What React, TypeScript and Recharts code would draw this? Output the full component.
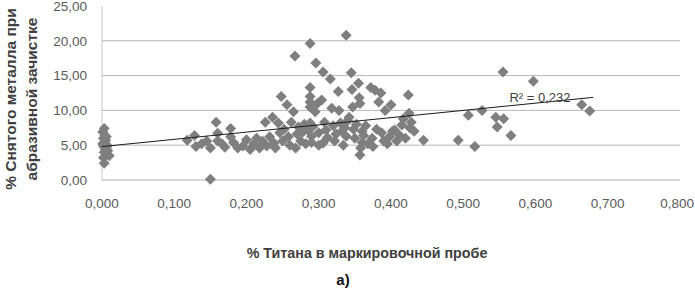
import React from "react";
import { ScatterChart, Scatter, XAxis, YAxis, ReferenceLine } from "recharts";

// % Ti in marking sample (x) and % removed metal (y)
const titaniumPct = [
  0.003, 0.001, 0.004, 0.002, 0.005, 0.003, 0.006, 0.002, 0.004, 0.005, 0.003, 0.006, 0.002, 0.003, 0.010, 0.008, 0.004, 0.006, 0.001, 0.007,
  0.118, 0.128, 0.130, 0.138, 0.145, 0.150, 0.150, 0.158, 0.160, 0.160, 0.166, 0.170, 0.178, 0.178, 0.182, 0.188, 0.195, 0.200, 0.205, 0.210, 0.214, 0.218, 0.222, 0.226, 0.228,
  0.232, 0.236, 0.238, 0.240, 0.244, 0.246, 0.248, 0.250, 0.252, 0.256, 0.258, 0.260, 0.262, 0.265, 0.267, 0.268, 0.270, 0.272, 0.275, 0.278, 0.280, 0.282, 0.285, 0.288, 0.288, 0.288, 0.288, 0.288, 0.288, 0.290, 0.290, 0.292, 0.295, 0.296, 0.298, 0.300, 0.300,
  0.304, 0.306, 0.306, 0.308, 0.310, 0.312, 0.316, 0.318, 0.320, 0.322, 0.324, 0.327, 0.328, 0.330, 0.332, 0.334, 0.336, 0.338, 0.338, 0.340, 0.342, 0.345, 0.346, 0.347, 0.348, 0.350, 0.352, 0.355, 0.356, 0.357, 0.357, 0.358, 0.360, 0.360, 0.362,
  0.365, 0.368, 0.372, 0.374, 0.375, 0.378, 0.380, 0.383, 0.386, 0.387, 0.390, 0.392, 0.395, 0.398, 0.400, 0.402, 0.405, 0.408, 0.412, 0.415, 0.417, 0.420, 0.424, 0.425, 0.426, 0.428, 0.432, 0.445,
  0.493, 0.507, 0.516, 0.526, 0.545, 0.547, 0.555, 0.556, 0.566, 0.597, 0.664, 0.675,
];
const removedMetalPct = [
  7.4, 6.9, 6.4, 6.0, 5.7, 5.4, 5.1, 4.9, 4.6, 4.3, 4.0, 3.7, 3.2, 2.4, 3.5, 4.2, 5.9, 6.2, 5.2, 4.8,
  5.7, 6.4, 4.8, 5.2, 5.6, 4.6, 0.1, 8.3, 6.7, 5.6, 5.2, 4.7, 7.4, 6.2, 5.4, 4.6, 4.9, 5.8, 4.4, 5.2, 6.0, 4.6, 5.6, 8.3, 4.9,
  6.2, 9.0, 5.3, 4.6, 8.2, 6.8, 12.0, 5.6, 7.3, 10.8, 6.2, 5.0, 8.3, 9.8, 17.8, 4.6, 6.6, 7.6, 5.6, 6.9, 8.0, 5.2, 7.2, 19.6, 13.3, 12.0, 11.2, 10.5, 8.2, 6.3, 5.4, 7.7, 9.8, 16.8, 11.0, 6.8, 5.0,
  11.5, 15.5, 5.3, 8.3, 7.2, 6.1, 14.5, 10.3, 7.8, 5.6, 6.6, 12.7, 10.0, 8.2, 7.0, 5.0, 7.5, 20.8, 6.3, 8.5, 9.0, 15.4, 13.0, 10.5, 7.3, 6.0, 8.0, 13.9, 11.8, 11.0, 3.6, 4.6, 7.0, 5.4, 6.4,
  7.8, 5.2, 13.3, 6.0, 4.8, 12.9, 7.3, 11.2, 12.5, 6.8, 5.6, 10.0, 5.2, 6.2, 10.8, 7.0, 7.2, 5.6, 6.4, 7.9, 8.8, 6.0, 12.2, 9.6, 7.5, 8.3, 7.0, 5.7,
  5.7, 9.3, 4.8, 10.0, 9.0, 7.6, 15.5, 8.8, 6.4, 14.2, 10.8, 9.9,
];

const xTicks = [0, 0.1, 0.2, 0.3, 0.4, 0.5, 0.6, 0.7, 0.8];
const yTicks = [0, 5, 10, 15, 20, 25];
const yGridValues = [5, 10, 15, 20];

// linear trend
const trendIntercept = 4.8;
const trendSlope = 10.4;
const trendRange = [0, 0.68];
const rSquaredText = "R² = 0,232";

const points = titaniumPct.map((x, i) => ({ x, y: removedMetalPct[i] }));
const trend = trendRange.map((x) => ({ x, y: trendIntercept + trendSlope * x }));

const fmt = (d: number) => (v: number) => v.toFixed(d).replace(".", ",");

const font = "'Liberation Sans', Arial, sans-serif";

const Diamond = (props: any) => {
  const { cx, cy } = props;
  if (cx == null || cy == null) return null;
  const r = 5.5;
  return (
    <polygon
      points={`${cx},${cy - r} ${cx + r},${cy} ${cx},${cy + r} ${cx - r},${cy}`}
      fill="#7f7f7f"
    />
  );
};

const NoShape = () => <g />;

const XTick = (props: any) => {
  const { x, y, payload } = props;
  const v = payload.value as number;
  const last = v === xTicks[xTicks.length - 1];
  return (
    <text
      x={last ? Math.min(x + 16, 694) : x}
      y={y}
      dy="0.71em"
      textAnchor={last ? "end" : "middle"}
      fill="#595959"
      fontSize={13.5}
      fontFamily={font}
    >
      {fmt(3)(v)}
    </text>
  );
};

export default function App() {
  return (
    <div style={{ position: "absolute", left: 0, top: 0, width: 695, height: 290, background: "#fff", fontFamily: font }}>
      <ScatterChart width={695} height={290} margin={{ top: 6, right: 15, bottom: 80, left: 0 }}>
        <XAxis
          type="number"
          dataKey="x"
          domain={[0, 0.8]}
          ticks={xTicks}
          tickLine={false}
          tickSize={0}
          tickMargin={18}
          height={30}
          axisLine={{ stroke: "#c8c8c8", strokeWidth: 1.5 }}
          tick={<XTick />}
          interval={0}
        />
        <YAxis
          type="number"
          dataKey="y"
          domain={[0, 25]}
          ticks={yTicks}
          tickFormatter={fmt(2)}
          tickLine={false}
          tickSize={0}
          tickMargin={15}
          width={102}
          axisLine={{ stroke: "#c8c8c8", strokeWidth: 1 }}
          tick={{ fill: "#595959", fontSize: 13.5, fontFamily: font }}
          interval={0}
        />
        {yGridValues.map((v) => (
          <ReferenceLine key={v} y={v} stroke="#b8b8b8" strokeWidth={1} />
        ))}
        <Scatter data={points} shape={Diamond} isAnimationActive={false} />
        <Scatter
          data={trend}
          shape={NoShape}
          line={{ stroke: "#1a1a1a", strokeWidth: 1 }}
          isAnimationActive={false}
        />
      </ScatterChart>
      <div
        style={{
          position: "absolute",
          left: 500,
          top: 90,
          width: 80,
          textAlign: "center",
          fontSize: 13,
          color: "#404040",
          lineHeight: "16px",
        }}
      >
        {rSquaredText}
      </div>
      <div
        style={{
          position: "absolute",
          left: 217,
          top: 244,
          width: 300,
          textAlign: "center",
          fontSize: 14.3,
          fontWeight: "bold",
          color: "#404040",
          lineHeight: "18px",
        }}
      >
        % Титана в маркировочной пробе
      </div>
      <div
        style={{
          position: "absolute",
          left: 293,
          top: 271,
          width: 100,
          textAlign: "center",
          fontSize: 15,
          fontWeight: "bold",
          color: "#111",
          lineHeight: "18px",
        }}
      >
        а)
      </div>
      <div
        style={{
          position: "absolute",
          left: 21 - 110,
          top: 99 - 21,
          width: 220,
          height: 42,
          transform: "rotate(-90deg)",
          transformOrigin: "50% 50%",
          textAlign: "center",
          fontSize: 15.5,
          fontWeight: "bold",
          color: "#404040",
          lineHeight: "21px",
        }}
      >
        % Снятого металла при
        <br />
        абразивной зачистке
      </div>
    </div>
  );
}
